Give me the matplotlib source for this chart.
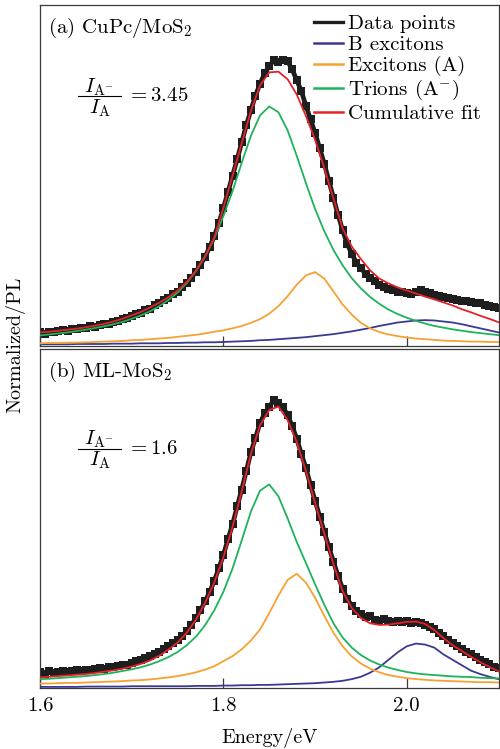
import numpy as np
import matplotlib
matplotlib.use("Agg")
import matplotlib.pyplot as plt
from matplotlib.lines import Line2D
from matplotlib.transforms import offset_copy

plt.rcParams['font.family'] = ['cmr10', 'DejaVu Serif']
plt.rcParams['mathtext.fontset'] = 'cm'
plt.rcParams['axes.unicode_minus'] = False
plt.rcParams['axes.formatter.use_mathtext'] = True

# ---------------- data ----------------
energy_fit = np.linspace(1.60, 2.10, 51)     # eV, fit-curve sampling
energy_data = np.linspace(1.60, 2.10, 101)   # eV, measured points

# (a) CuPc/MoS2
a_data = [0.040, 0.036, 0.042, 0.040, 0.044, 0.046, 0.045, 0.049, 0.050, 0.054,
          0.053, 0.058, 0.057, 0.062, 0.065, 0.064, 0.070, 0.073, 0.078, 0.082,
          0.087, 0.094, 0.098, 0.106, 0.110, 0.120, 0.126, 0.135, 0.142, 0.153,
          0.160, 0.172, 0.185, 0.200, 0.218, 0.238, 0.262, 0.290, 0.322, 0.360,
          0.405, 0.452, 0.500, 0.548, 0.598, 0.648, 0.692, 0.735, 0.770, 0.800,
          0.822, 0.838, 0.832, 0.840, 0.835, 0.812, 0.780, 0.748, 0.705, 0.665,
          0.625, 0.580, 0.535, 0.485, 0.435, 0.385, 0.340, 0.300, 0.270, 0.245,
          0.228, 0.212, 0.200, 0.190, 0.180, 0.172, 0.168, 0.163, 0.160, 0.158,
          0.157, 0.154, 0.158, 0.165, 0.158, 0.155, 0.150, 0.148, 0.145, 0.140,
          0.138, 0.135, 0.132, 0.133, 0.128, 0.125, 0.126, 0.120, 0.118, 0.115,
          0.112]
a_bexc = [0.005, 0.005, 0.005, 0.005, 0.006, 0.006, 0.006, 0.006, 0.007, 0.007,
          0.007, 0.008, 0.008, 0.008, 0.009, 0.009, 0.010, 0.010, 0.011, 0.011,
          0.012, 0.013, 0.014, 0.015, 0.017, 0.018, 0.020, 0.022, 0.024, 0.026,
          0.029, 0.032, 0.035, 0.039, 0.043, 0.048, 0.053, 0.059, 0.064, 0.069,
          0.072, 0.075, 0.076, 0.075, 0.072, 0.069, 0.064, 0.058, 0.052, 0.046,
          0.040]
a_exc = [0.008, 0.009, 0.009, 0.010, 0.010, 0.011, 0.012, 0.013, 0.014, 0.015,
         0.017, 0.018, 0.020, 0.022, 0.024, 0.027, 0.030, 0.033, 0.037, 0.042,
         0.046, 0.052, 0.059, 0.068, 0.079, 0.095, 0.117, 0.146, 0.180, 0.207,
         0.217, 0.198, 0.160, 0.122, 0.092, 0.068, 0.052, 0.041, 0.034, 0.029,
         0.025, 0.022, 0.020, 0.018, 0.016, 0.015, 0.014, 0.013, 0.013, 0.012,
         0.012]
a_trion = [0.031, 0.034, 0.037, 0.040, 0.044, 0.048, 0.053, 0.058, 0.064, 0.071,
           0.080, 0.090, 0.102, 0.117, 0.135, 0.157, 0.185, 0.220, 0.263, 0.316,
           0.381, 0.455, 0.538, 0.617, 0.677, 0.703, 0.686, 0.633, 0.558, 0.478,
           0.402, 0.337, 0.282, 0.237, 0.199, 0.169, 0.144, 0.124, 0.107, 0.094,
           0.083, 0.074, 0.066, 0.059, 0.054, 0.049, 0.045, 0.041, 0.038, 0.035,
           0.032]
a_fit = [0.040, 0.042, 0.045, 0.048, 0.051, 0.055, 0.060, 0.065, 0.072, 0.080,
         0.090, 0.100, 0.113, 0.127, 0.143, 0.163, 0.188, 0.220, 0.262, 0.318,
         0.405, 0.500, 0.595, 0.690, 0.765, 0.803, 0.805, 0.783, 0.738, 0.675,
         0.605, 0.522, 0.433, 0.345, 0.292, 0.255, 0.222, 0.198, 0.184, 0.172,
         0.163, 0.154, 0.145, 0.137, 0.128, 0.119, 0.108, 0.099, 0.089, 0.080,
         0.070]

# (b) ML-MoS2
b_data = [0.045, 0.040, 0.048, 0.044, 0.046, 0.050, 0.045, 0.048, 0.052, 0.049,
          0.053, 0.051, 0.055, 0.057, 0.056, 0.060, 0.062, 0.064, 0.068, 0.066,
          0.072, 0.078, 0.080, 0.088, 0.092, 0.100, 0.106, 0.115, 0.124, 0.132,
          0.142, 0.152, 0.168, 0.185, 0.205, 0.228, 0.255, 0.282, 0.315, 0.352,
          0.392, 0.438, 0.482, 0.535, 0.585, 0.640, 0.695, 0.738, 0.782, 0.810,
          0.830, 0.848, 0.842, 0.828, 0.805, 0.772, 0.735, 0.690, 0.648, 0.598,
          0.552, 0.505, 0.460, 0.415, 0.372, 0.330, 0.292, 0.262, 0.242, 0.225,
          0.218, 0.208, 0.212, 0.200, 0.198, 0.202, 0.196, 0.194, 0.198, 0.194,
          0.196, 0.192, 0.195, 0.190, 0.186, 0.178, 0.172, 0.160, 0.152, 0.140,
          0.132, 0.122, 0.115, 0.106, 0.098, 0.090, 0.082, 0.075, 0.070, 0.062,
          0.058]
b_bexc = [0.002, 0.002, 0.002, 0.002, 0.002, 0.003, 0.003, 0.003, 0.003, 0.003,
          0.004, 0.004, 0.004, 0.004, 0.004, 0.004, 0.004, 0.005, 0.005, 0.005,
          0.006, 0.006, 0.007, 0.007, 0.008, 0.008, 0.009, 0.010, 0.011, 0.012,
          0.013, 0.015, 0.017, 0.020, 0.025, 0.032, 0.044, 0.060, 0.082, 0.104,
          0.122, 0.130, 0.127, 0.118, 0.098, 0.082, 0.066, 0.050, 0.040, 0.032,
          0.025]
b_exc = [0.012, 0.012, 0.013, 0.014, 0.014, 0.015, 0.016, 0.017, 0.018, 0.019,
         0.021, 0.022, 0.024, 0.027, 0.030, 0.034, 0.039, 0.045, 0.053, 0.063,
         0.078, 0.093, 0.113, 0.139, 0.172, 0.220, 0.272, 0.318, 0.336, 0.310,
         0.265, 0.212, 0.162, 0.122, 0.092, 0.071, 0.056, 0.045, 0.037, 0.032,
         0.028, 0.025, 0.023, 0.021, 0.020, 0.019, 0.018, 0.017, 0.016, 0.016,
         0.015]
b_trion = [0.025, 0.026, 0.028, 0.030, 0.032, 0.034, 0.037, 0.040, 0.044, 0.049,
           0.054, 0.060, 0.068, 0.078, 0.090, 0.105, 0.125, 0.150, 0.184, 0.228,
           0.283, 0.352, 0.435, 0.520, 0.582, 0.600, 0.565, 0.500, 0.430, 0.368,
           0.305, 0.245, 0.190, 0.148, 0.118, 0.096, 0.080, 0.068, 0.059, 0.052,
           0.046, 0.042, 0.039, 0.037, 0.035, 0.033, 0.032, 0.031, 0.029, 0.028,
           0.027]
b_fit = [0.030, 0.032, 0.034, 0.036, 0.038, 0.040, 0.043, 0.047, 0.051, 0.056,
         0.062, 0.070, 0.080, 0.094, 0.112, 0.133, 0.162, 0.200, 0.250, 0.310,
         0.385, 0.475, 0.580, 0.690, 0.775, 0.820, 0.830, 0.790, 0.725, 0.640,
         0.545, 0.455, 0.365, 0.285, 0.235, 0.205, 0.190, 0.185, 0.186, 0.190,
         0.194, 0.195, 0.188, 0.170, 0.146, 0.125, 0.108, 0.091, 0.075, 0.061,
         0.048]

labels = ["Data points", "B excitons", "Excitons (A)", "Trions (A$^{-}$)", "Cumulative fit"]
panel_titles = ["(a) CuPc/MoS$_2$", "(b) ML-MoS$_2$"]
ratio_values = ["3.45", "1.6"]
xticks = [1.6, 1.8, 2.0]
xticklabels = ["1.6", "1.8", "2.0"]

c_data = "#1e1e1e"
c_b = "#3a3a94"
c_exc = "#f7a132"
c_tri = "#1db35a"
c_fit = "#e52228"
c_spine = "#3a3a3a"

fig = plt.figure(figsize=(5.0, 7.49), dpi=100)
ax_a = fig.add_axes([0.080, 0.538, 0.917, 0.455])
ax_b = fig.add_axes([0.080, 0.082, 0.917, 0.452])

panels = [
    (ax_a, a_data, a_bexc, a_exc, a_trion, a_fit, 0.733),
    (ax_b, b_data, b_bexc, b_exc, b_trion, b_fit, 0.705),
]
FS = 15
for i, (ax, dat, bex, exc, tri, fit, ybar) in enumerate(panels):
    ax.plot(energy_data, dat, color=c_data, lw=3.4, zorder=2, solid_joinstyle='miter')
    ax.plot(energy_data, dat, ls='none', marker='s', ms=5.6, mew=0,
            color=c_data, zorder=2)
    ax.plot(energy_fit, bex, color=c_b, lw=1.3, zorder=3)
    ax.plot(energy_fit, exc, color=c_exc, lw=1.3, zorder=3)
    ax.plot(energy_fit, tri, color=c_tri, lw=1.3, zorder=3)
    ax.plot(energy_fit, fit, color=c_fit, lw=1.3, zorder=4)
    ax.set_xlim(1.6, 2.1)
    ax.set_ylim(0, 1.0)
    ax.set_yticks([])
    ax.set_xticks(xticks)
    ax.tick_params(axis='x', direction='in', length=7, width=0.9, color=c_spine,
                   labelsize=FS, pad=7)
    for sp in ax.spines.values():
        sp.set_color(c_spine)
        sp.set_linewidth(0.9)
    ax.text(0.017, 0.918, panel_titles[i], transform=ax.transAxes,
            fontsize=FS, va='baseline', ha='left')
    # ratio I_{A-}/I_A written as a stacked fraction
    tr_num = offset_copy(ax.transAxes, fig=fig, x=0, y=4, units='dots')
    tr_den = offset_copy(ax.transAxes, fig=fig, x=0, y=-17, units='dots')
    ax.text(0.128, ybar, r"$I_{\mathrm{A}^{-}}$", transform=tr_num,
            fontsize=FS, ha='center', va='baseline')
    ax.text(0.131, ybar, r"$I_{\mathrm{A}}$", transform=tr_den,
            fontsize=FS, ha='center', va='baseline')
    ax.add_line(Line2D([0.083, 0.176], [ybar, ybar], transform=ax.transAxes,
                       color='black', lw=0.8))
    ax.text(0.190, ybar, "$=" + ratio_values[i] + "$", transform=ax.transAxes,
            fontsize=FS, ha='left', va='center')

ax_a.set_xticklabels([])
ax_b.set_xticklabels(xticklabels)
ax_b.set_xlabel("Energy/eV", fontsize=14.5, labelpad=9)
fig.text(0.030, 0.54, "Normalized/PL", rotation=90, fontsize=14.5,
         ha='center', va='center')

handles = [Line2D([], [], color=c_data, lw=2.4),
           Line2D([], [], color=c_b, lw=1.8),
           Line2D([], [], color=c_exc, lw=1.8),
           Line2D([], [], color=c_tri, lw=1.8),
           Line2D([], [], color=c_fit, lw=1.8)]
ax_a.legend(handles, labels, loc='upper left', bbox_to_anchor=(0.597, 0.972),
            frameon=False, fontsize=FS, handlelength=1.4, handletextpad=0.25,
            labelspacing=0.1, borderpad=0.0, borderaxespad=0)

fig.savefig("out.png", dpi=100)
